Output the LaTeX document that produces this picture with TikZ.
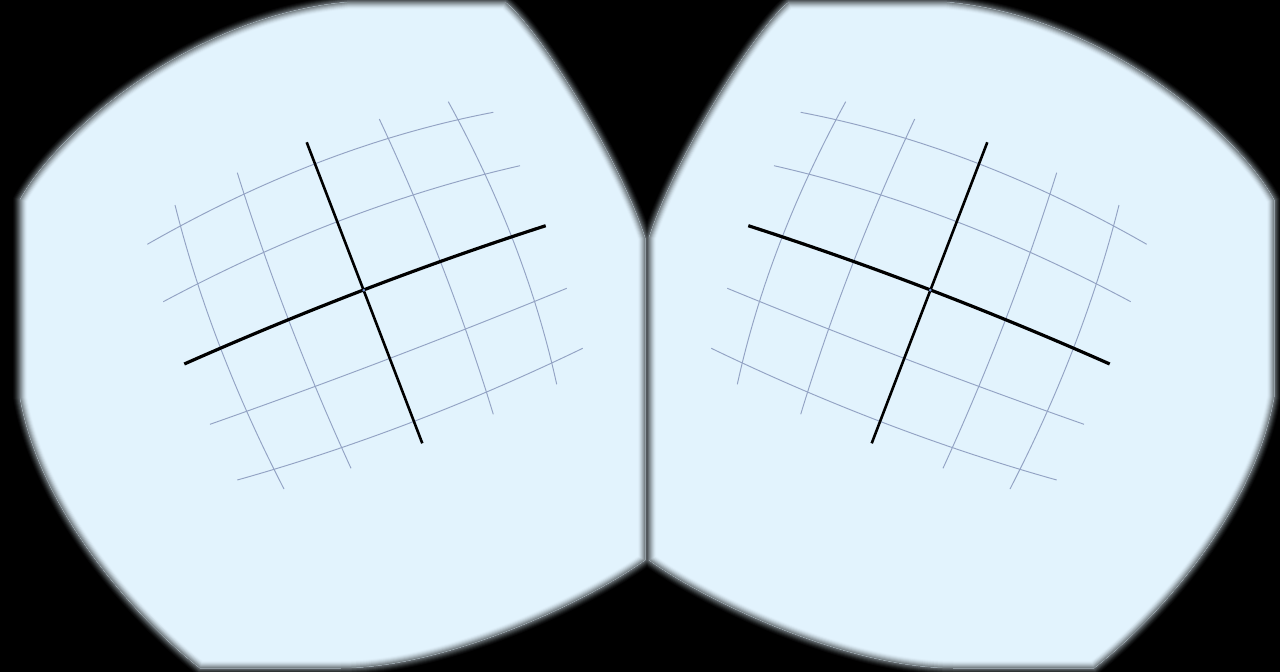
\documentclass[tikz,border=0pt]{standalone}
\usetikzlibrary{calc}
\definecolor{lens}{HTML}{E2F3FD}
\definecolor{gridc}{HTML}{93A3C4}
\definecolor{dotc}{HTML}{6E8CCB}
\newcommand{\lensPath}{(20,397) -- (20,200) .. controls (55,135) and (190,15) .. (350,2) -- (505,2) .. controls (540,30) and (620,160) .. (645,238) -- (645,560) .. controls (585,603) and (445,668) .. (340,668) -- (200,668) .. controls (138,620) and (40,512) .. (20,397) -- cycle}
% quadratic curve through start, middle point and end
\newcommand{\qcurve}[4]{\draw[#1] (#2) .. controls ($1.33333*(#3)-0.33333*(#4)$) and ($1.33333*(#3)-0.33333*(#2)$) .. (#4);}
\newcommand{\panelGrid}{%
  % thin rows
  \qcurve{gridline}{147.3,244.3}{320.3,161.8}{493.3,112.3}
  \qcurve{gridline}{163.3,301.7}{341.7,220.0}{520,165.7}
  \qcurve{gridline}{210,424.3}{388.4,358.9}{566.7,288.3}
  \qcurve{gridline}{237.3,480}{410,422.9}{582.7,348.3}
  % thin columns
  \qcurve{gridline}{175,205}{220.1,347}{284,489}
  \qcurve{gridline}{237.3,172.7}{288.8,320.5}{351,468.3}
  \qcurve{gridline}{379.3,119}{442.4,266.7}{493.3,414.3}
  \qcurve{gridline}{448.3,101.7}{514.1,243}{556.7,384.3}
  % axes
  \qcurve{axiscol}{306.7,142.3}{364.6,292.8}{422.3,443.3}
  \qcurve{axisrow}{184.3,364}{365,289.4}{545.7,225.7}
  \fill[dotc] (363.8,290.2) circle (1.5);
}
\begin{document}
\begin{tikzpicture}[x=1pt,y=-1pt,
  gridline/.style={draw=gridc, line width=0.95pt},
  axisrow/.style={draw=black, line width=3.2pt},
  axiscol/.style={draw=black, line width=2.6pt},
  mirror/.style={xshift=1294pt, xscale=-1}]
\fill[black] (0,0) rectangle (1280,672);
\useasboundingbox (0,0) rectangle (1280,672);
% outer halo of the blurred edge
\foreach \w/\c in {14/3, 12/7, 10/13, 8/20, 6/28, 4/36, 2/45} {
  \draw[line width=\w pt, lens!\c!black] \lensPath;
  \begin{scope}[mirror]
    \draw[line width=\w pt, lens!\c!black] \lensPath;
  \end{scope}
}
% lens areas
\fill[lens] \lensPath;
\begin{scope}[mirror]
  \fill[lens] \lensPath;
\end{scope}
% inner halo
\foreach \w/\c in {14/98, 12/94, 10/88, 8/81, 6/73, 4/64, 2/55} {
  \begin{scope}
    \clip \lensPath;
    \draw[line width=\w pt, lens!\c!black] \lensPath;
  \end{scope}
  \begin{scope}[mirror]
    \clip \lensPath;
    \draw[line width=\w pt, lens!\c!black] \lensPath;
  \end{scope}
}
% grids
\panelGrid
\begin{scope}[mirror]
  \panelGrid
\end{scope}
\end{tikzpicture}
\end{document}
